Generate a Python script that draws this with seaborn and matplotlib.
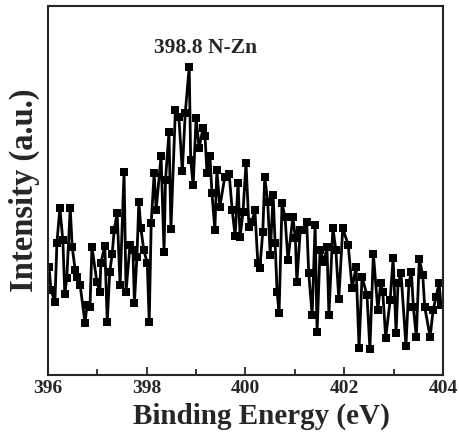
import numpy as np
import pandas as pd
from matplotlib import pyplot as plt
from matplotlib.ticker import MultipleLocator
import seaborn as sns

sns.set_style('ticks')
plt.rcParams['font.family'] = ['Liberation Serif', 'DejaVu Serif']
plt.rcParams['font.weight'] = 'bold'

### N 1s spectrum (binding energy in eV, intensity in a.u.)
energy = [396.02, 396.06, 396.14, 396.18, 396.24, 396.30, 396.34, 396.38, 396.45, 396.49,
          396.55, 396.59, 396.65, 396.75, 396.79, 396.85, 396.89, 396.99, 397.05, 397.07,
          397.15, 397.20, 397.25, 397.30, 397.34, 397.40, 397.46, 397.54, 397.58, 397.66,
          397.72, 397.75, 397.80, 397.84, 397.88, 397.94, 398.01, 398.05, 398.09, 398.15,
          398.19, 398.29, 398.35, 398.38, 398.45, 398.49, 398.58, 398.65, 398.72, 398.78,
          398.86, 398.89, 398.94, 399.00, 399.06, 399.14, 399.18, 399.22, 399.28, 399.32,
          399.38, 399.42, 399.48, 399.58, 399.67, 399.73, 399.79, 399.85, 399.89, 399.95,
          400.01, 400.07, 400.13, 400.19, 400.25, 400.29, 400.35, 400.39, 400.45, 400.50,
          400.56, 400.60, 400.64, 400.68, 400.74, 400.80, 400.86, 400.96, 401.01, 401.04,
          401.11, 401.16, 401.24, 401.28, 401.35, 401.41, 401.45, 401.51, 401.59, 401.65,
          401.69, 401.77, 401.83, 401.89, 401.97, 402.08, 402.16, 402.24, 402.30, 402.36,
          402.46, 402.52, 402.59, 402.68, 402.74, 402.78, 402.84, 402.93, 402.99, 403.05,
          403.09, 403.15, 403.25, 403.31, 403.36, 403.40, 403.46, 403.52, 403.59, 403.63,
          403.74, 403.80, 403.86, 403.92, 403.96]
intensity = [108, 85, 73, 132, 167, 135, 81, 97, 167, 128,
             105, 98, 90, 52, 70, 68, 128, 93, 83, 112,
             129, 53, 103, 121, 145, 162, 90, 203, 83, 130,
             125, 72, 118, 173, 147, 125, 112, 53, 152, 202,
             165, 219, 123, 195, 243, 146, 265, 258, 204, 262,
             308, 215, 190, 257, 227, 247, 239, 202, 219, 182,
             145, 205, 168, 198, 201, 165, 139, 192, 138, 163,
             212, 148, 153, 165, 112, 107, 143, 198, 173, 120,
             180, 132, 83, 62, 172, 158, 115, 158, 137, 93,
             145, 145, 153, 102, 60, 150, 43, 125, 113, 128,
             60, 147, 125, 76, 147, 130, 87, 108, 27, 98,
             80, 26, 121, 65, 92, 83, 37, 75, 117, 42,
             92, 102, 29, 92, 103, 68, 38, 116, 100, 68,
             38, 65, 78, 92, 70]

df = pd.DataFrame({'Binding Energy (eV)': energy, 'Intensity': intensity})

### plot
fig = plt.figure(figsize=(4.59, 4.43), dpi=100)
ax = fig.add_axes([0.1046, 0.1535, 0.8605, 0.833])
sns.lineplot(x='Binding Energy (eV)', y='Intensity', data=df, ax=ax, color='black',
             linewidth=2.0, marker='s', markersize=6, markeredgecolor='black', markeredgewidth=0)
ax.set(xlim=(396, 404), ylim=(0, 369))
ax.xaxis.set_major_locator(MultipleLocator(2))
ax.xaxis.set_minor_locator(MultipleLocator(1))
ax.set_yticks([])
ax.tick_params(axis='x', which='both', direction='in', top=False, labelsize=14, width=1.3)
ax.tick_params(axis='x', which='major', length=6)
ax.tick_params(axis='x', which='minor', length=4)
for lab in ax.get_xticklabels():
    lab.set_fontweight('bold')
for s in ax.spines.values():
    s.set_linewidth(1.5)
ax.set_xlabel('Binding Energy (eV)', fontsize=21, fontweight='bold', labelpad=1)
ax.xaxis.set_label_coords(0.54, -0.075)
ax.set_ylabel('Intensity (a.u.)', fontsize=23.5, fontweight='bold', labelpad=6)
ax.text(399.2, 327, '398.8 N-Zn', ha='center', va='center', fontsize=15.5, fontweight='bold')
plt.savefig('out.png', format='png', dpi=100)
